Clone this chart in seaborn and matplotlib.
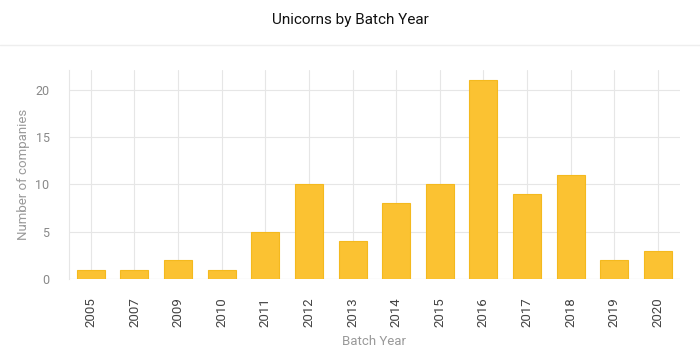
import matplotlib
matplotlib.use("Agg")
from matplotlib import pyplot as plt
from matplotlib.lines import Line2D
import pandas as pd
import seaborn as sns

years = ["2005", "2007", "2009", "2010", "2011", "2012", "2013",
         "2014", "2015", "2016", "2017", "2018", "2019", "2020"]
companies = [1, 1, 2, 1, 5, 10, 4, 8, 10, 21, 9, 11, 2, 3]
y_ticks = [0, 5, 10, 15, 20]

bar_color = "#FBC232"
edge_color = "#F4B91E"
grid_color = "#E6E6E6"


def main():
    sns.set_style("white")
    plt.rcParams["font.family"] = ["Roboto", "DejaVu Sans"]

    df = pd.DataFrame({"year": years, "n": companies})

    fig = plt.figure(figsize=(7, 3.64), dpi=100)
    ax = fig.add_axes([0.0986, 0.2335, 0.8724, 0.5742])

    sns.barplot(data=df, x="year", y="n", color=bar_color, width=0.64,
                edgecolor=edge_color, linewidth=0.8, saturation=1, ax=ax)

    ax.set_xlim(-0.5, len(years) - 0.5)
    ax.set_ylim(0, 22.1)
    ax.set_yticks(y_ticks)

    ax.set_axisbelow(True)
    ax.grid(True, color=grid_color, linewidth=0.8)
    for s in ["top", "right", "bottom"]:
        ax.spines[s].set_visible(False)
    ax.spines["left"].set_color(grid_color)
    ax.spines["left"].set_linewidth(0.8)
    ax.axhline(0, color=grid_color, linewidth=0.8, zorder=0.5)

    ax.tick_params(axis="x", length=9, color=grid_color, width=0.8,
                   labelrotation=90, labelsize=9.5, labelcolor="#444444", pad=4)
    ax.tick_params(axis="y", length=11, color=grid_color, width=0.8,
                   labelsize=9, labelcolor="#888888", pad=3)

    ax.set_xlabel("Batch Year", fontsize=9.5, color="#999999", labelpad=6)
    ax.set_ylabel("Number of companies", fontsize=9.5, color="#999999", labelpad=4)

    fig.text(0.5, 0.945, "Unicorns by Batch Year", ha="center", va="center",
             fontsize=11, color="#111111")
    fig.add_artist(Line2D([0, 1], [0.877, 0.877], color="#EEEEEE",
                          linewidth=1, transform=fig.transFigure))

    fig.savefig("out.png", dpi=100, facecolor="white")


if __name__ == "__main__":
    main()
